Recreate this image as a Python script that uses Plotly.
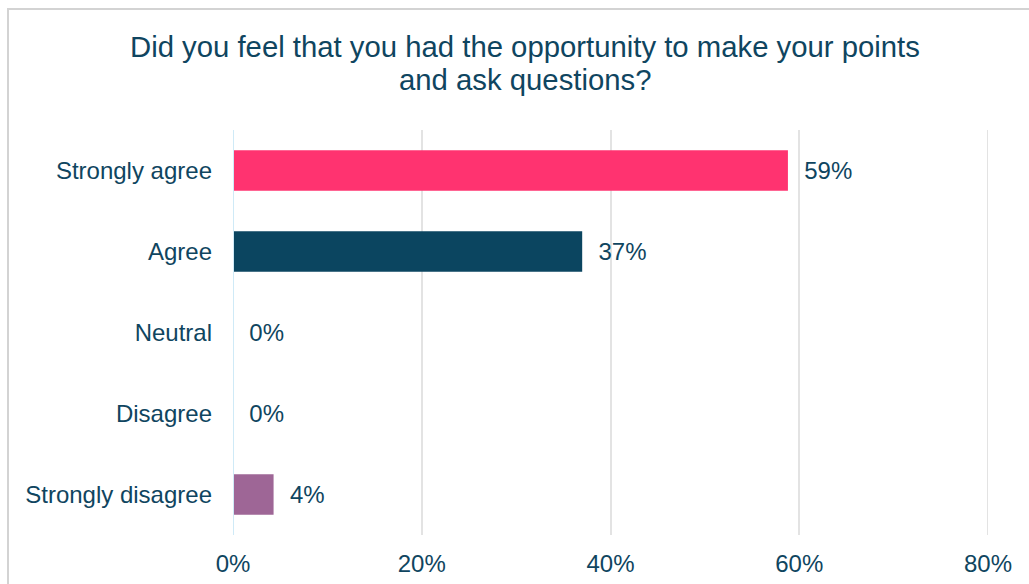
import plotly.graph_objects as go

categories = ["Strongly agree", "Agree", "Neutral", "Disagree", "Strongly disagree"]
values = [58.8, 37.0, 0.0, 0.0, 4.3]
bar_colors = ["#FF3370", "#0B4560", "#0B4560", "#0B4560", "#9E6696"]
tick_vals = [0, 20, 40, 60, 80]
tick_text = ["0%", "20%", "40%", "60%", "80%"]
title_lines = ["Did you feel that you had the opportunity to make your points",
               "and ask questions?"]

text_color = "#0F4560"
font_family = "Liberation Sans, Arial, sans-serif"
fs = 24

# pixel geometry of plot area
L, R, T, B = 233, 988, 130, 535
PW, PH = R - L, B - T

fig = go.Figure()
fig.add_trace(go.Bar(
    y=categories,
    x=values,
    orientation="h",
    marker=dict(color=bar_colors, line=dict(width=0)),
    width=0.5,
    text=["  %d%%" % round(v) for v in values],
    textposition="outside",
    textfont=dict(size=fs, color=text_color, family=font_family),
    cliponaxis=False,
    hoverinfo="skip",
))

annotations = []
for i, line in enumerate(title_lines):
    ypix = 47 + 33 * i
    annotations.append(dict(
        text=line, xref="paper", yref="paper",
        x=(525 - L) / PW, y=1 + (T - ypix) / PH,
        xanchor="center", yanchor="middle", showarrow=False,
        font=dict(size=29.3, color=text_color, family=font_family),
    ))

fig.update_layout(
    width=1029,
    height=584,
    margin=dict(l=L, r=1029 - R, t=T, b=584 - B),
    paper_bgcolor="white",
    plot_bgcolor="white",
    showlegend=False,
    annotations=annotations,
    font=dict(family=font_family, color=text_color, size=fs),
    xaxis=dict(
        range=[0, 80],
        tickvals=tick_vals,
        ticktext=tick_text,
        showgrid=True,
        gridcolor="#E3E3E3",
        gridwidth=2,
        zeroline=False,
        showline=False,
        ticks="",
        ticklabelstandoff=12,
        automargin=False,
        tickfont=dict(size=fs, color=text_color, family=font_family),
        fixedrange=True,
    ),
    yaxis=dict(
        categoryorder="array",
        categoryarray=categories[::-1],
        autorange=True,
        showgrid=False,
        zeroline=False,
        showline=False,
        ticks="",
        ticklabelstandoff=20,
        automargin=False,
        tickfont=dict(size=fs, color=text_color, family=font_family),
        fixedrange=True,
    ),
    shapes=[
        dict(type="line", xref="x", yref="paper", x0=tick_vals[-1], x1=tick_vals[-1], y0=0, y1=1,
             line=dict(color="#E3E3E3", width=2), layer="below"),
        dict(type="line", xref="x", yref="paper", x0=0, x1=0, y0=0, y1=1,
             line=dict(color="#CFEAF7", width=2), layer="above"),
        dict(type="rect", xref="paper", yref="paper",
             x0=(8 - L) / PW, x1=1.2, y0=-0.5, y1=1 + (T - 9) / PH,
             line=dict(color="#D3D3D3", width=2), layer="below"),
    ],
)

fig.write_html("out.html")
